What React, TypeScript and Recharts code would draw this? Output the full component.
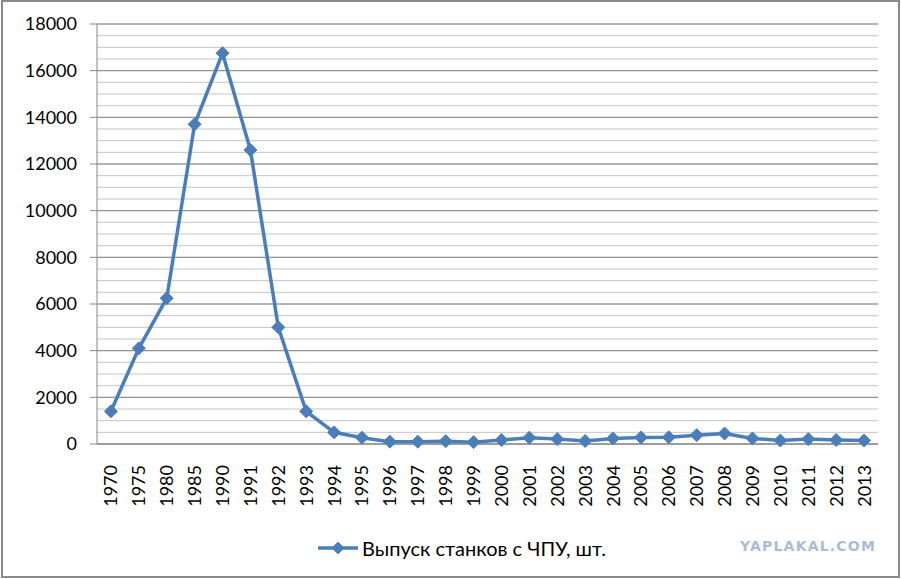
import React from "react";
import {
  CartesianGrid,
  Legend,
  Line,
  LineChart,
  XAxis,
  YAxis,
} from "recharts";

const years = [
  "1970", "1975", "1980", "1985", "1990", "1991", "1992", "1993", "1994",
  "1995", "1996", "1997", "1998", "1999", "2000", "2001", "2002", "2003",
  "2004", "2005", "2006", "2007", "2008", "2009", "2010", "2011", "2012",
  "2013",
];

const output = [
  1400, 4100, 6250, 13700, 16750, 12600, 5000, 1400, 500,
  270, 100, 100, 120, 80, 170, 270, 210, 130,
  240, 280, 290, 380, 450, 240, 150, 210, 170,
  150,
];

const majorTicks = [0, 2000, 4000, 6000, 8000, 10000, 12000, 14000, 16000, 18000];
const minorTicks = Array.from({ length: 37 }, (_, i) => i * 500);
const edgeTicks = years.map((_, i) => i).concat(years.length);

const SERIES_NAME = "Выпуск станков с ЧПУ, шт.";
const BLUE = "#4A7EBB";
const FONT = "Lato, 'Open Sans', sans-serif";

const data = years.map((year, i) => ({ year, value: output[i], pos: i + 0.5 }));

const Diamond = ({ cx, cy }: { cx?: number; cy?: number }) => {
  if (cx == null || cy == null) return null;
  const r = 6.5;
  return (
    <polygon
      points={`${cx},${cy - r} ${cx + r},${cy} ${cx},${cy + r} ${cx - r},${cy}`}
      fill={BLUE}
      stroke={BLUE}
      strokeWidth={1}
    />
  );
};

const YearTick = ({ x, y, payload }: any) => (
  <g transform={`translate(${x},${y})`}>
    <text
      transform="rotate(-90)"
      x={-14}
      dy="0.36em"
      textAnchor="end"
      fill="#000"
      fontSize={18}
      fontFamily={FONT}
    >
      {payload.value}
    </text>
  </g>
);

const LegendContent = () => (
  <div style={{ display: "flex", alignItems: "center", height: 24 }}>
    <svg width={44} height={24}>
      <line x1={2} y1={12} x2={42} y2={12} stroke={BLUE} strokeWidth={3.5} />
      <polygon points="22,5.5 28.5,12 22,18.5 15.5,12" fill={BLUE} />
    </svg>
    <span style={{ fontFamily: FONT, fontSize: 20, color: "#000", marginLeft: 2 }}>
      {SERIES_NAME}
    </span>
  </div>
);

const App = () => {
  return (
    <div style={{ position: "relative", width: 901, height: 579, background: "#fff" }}>
      <style>{`body{margin:0}`}</style>
      <LineChart
        width={901}
        height={579}
        data={data}
        margin={{ top: 24, right: 23, left: 0, bottom: 19 }}
      >
        <CartesianGrid
          xAxisId="b_year"
          vertical={false}
          horizontalValues={minorTicks}
          stroke="#C4C4C4"
          strokeWidth={1}
        />
        <CartesianGrid
          xAxisId="b_year"
          vertical={false}
          horizontalValues={majorTicks}
          stroke="#868686"
          strokeWidth={1}
        />
        <YAxis
          domain={[0, 18000]}
          ticks={majorTicks}
          width={97}
          interval={0}
          tickSize={7}
          tickMargin={13}
          axisLine={{ stroke: "#868686" }}
          tickLine={{ stroke: "#868686" }}
          tick={{ fill: "#000", fontSize: 18, fontFamily: FONT }}
        />
        <XAxis
          xAxisId="a_edge"
          type="number"
          dataKey="pos"
          domain={[0, years.length]}
          allowDataOverflow
          ticks={edgeTicks}
          interval={0}
          height={7}
          tickSize={7}
          tick={false}
          axisLine={{ stroke: "#868686" }}
          tickLine={{ stroke: "#868686" }}
        />
        <XAxis
          xAxisId="b_year"
          dataKey="year"
          scale="band"
          interval={0}
          height={85}
          tickSize={0}
          tickMargin={0}
          axisLine={false}
          tickLine={false}
          tick={<YearTick />}
        />
        <Legend
          verticalAlign="bottom"
          content={<LegendContent />}
          wrapperStyle={{ left: 316, width: "auto" }}
        />
        <Line
          xAxisId="a_edge"
          type="linear"
          dataKey="value"
          stroke="none"
          dot={false}
          activeDot={false}
          legendType="none"
          isAnimationActive={false}
        />
        <Line
          xAxisId="b_year"
          type="linear"
          dataKey="value"
          name={SERIES_NAME}
          stroke={BLUE}
          strokeWidth={3.5}
          dot={<Diamond />}
          activeDot={false}
          isAnimationActive={false}
        />
      </LineChart>
      <div
        style={{
          position: "absolute",
          left: 740,
          top: 538,
          fontFamily: "'DejaVu Sans', sans-serif",
          fontWeight: "bold",
          fontSize: 14,
          color: "#A9BCD3",
          letterSpacing: 1.2,
        }}
      >
        YAPLAKAL.COM
      </div>
      <div
        style={{
          position: "absolute",
          left: 1,
          top: 0,
          width: 899,
          height: 578,
          border: "2px solid #8A8A8A",
          boxSizing: "border-box",
          pointerEvents: "none",
        }}
      />
    </div>
  );
};

export default App;
